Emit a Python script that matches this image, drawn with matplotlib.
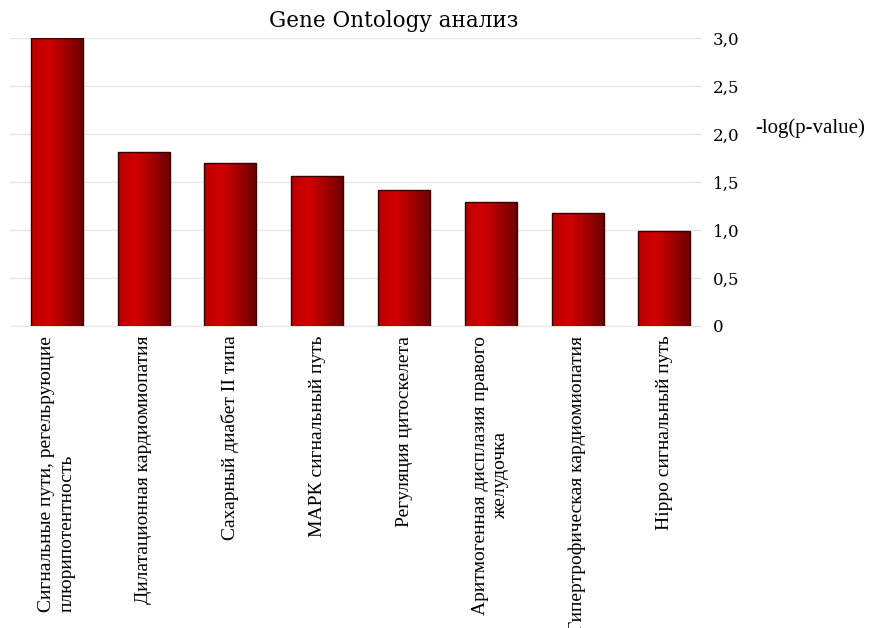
import matplotlib
matplotlib.use('Agg')
import matplotlib.pyplot as plt
from matplotlib.colors import LinearSegmentedColormap
import numpy as np

plt.rcParams['font.family'] = ['Liberation Serif', 'DejaVu Serif']

# данные
categories = [
    'Сигнальные пути, регельрующие\nплюрипотентность',
    'Дилатационная кардиомиопатия',
    'Сахарный диабет II типа',
    'МАРК сигнальный путь',
    'Регуляция цитоскелета',
    'Аритмогенная дисплазия правого\nжелудочка',
    'Гипертрофическая кардиомиопатия',
    'Hippo сигнальный путь',
]
values = [3.0, 1.81, 1.70, 1.56, 1.42, 1.29, 1.18, 0.99]
label_align = ['left', 'left', 'left', 'left', 'left', 'center', 'left', 'left']
yticks = [0, 0.5, 1.0, 1.5, 2.0, 2.5, 3.0]
ytick_labels = ['0', '0,5', '1,0', '1,5', '2,0', '2,5', '3,0']

fig = plt.figure(figsize=(8.69, 6.28), dpi=100)
ax = fig.add_axes([10/869, 1-326/628, (693-10)/869, (326-38)/628])

x = np.arange(len(values))
bars = ax.bar(x, values, width=0.6, color='none', edgecolor='#3a0000', linewidth=1, zorder=3)

# градиент внутри столбцов
cmap = LinearSegmentedColormap.from_list('redgrad', ['#b80000', '#d20000', '#a00000', '#6a0000'])
grad = np.linspace(0, 1, 256).reshape(1, -1)
for b in bars:
    x0, y0 = b.get_x(), b.get_y()
    im = ax.imshow(grad, cmap=cmap, aspect='auto', zorder=2,
                   extent=[x0, x0 + b.get_width(), y0, y0 + b.get_height()])
    im.set_clip_path(b)

ax.set_xlim(-0.54, 7.33)
ax.set_ylim(0, 3.0)

ax.yaxis.tick_right()
ax.set_yticks(yticks)
ax.set_yticklabels(ytick_labels, fontsize=12, family='DejaVu Serif')
ax.tick_params(axis='y', length=6, color='#dddddd', pad=8)
ax.grid(axis='y', color='#e6e6e6', linewidth=1, zorder=0)

ax.set_xticks(x)
ax.set_xticklabels(categories, rotation=90, fontsize=14, va='top', ha='center', linespacing=1.25)
for lbl, al in zip(ax.get_xticklabels(), label_align):
    lbl.set_multialignment(al)
ax.tick_params(axis='x', length=0, pad=7)

for s in ['top', 'left', 'right']:
    ax.spines[s].set_visible(False)
ax.spines['bottom'].set_color('#e6e6e6')

fig.text(394/869, 1-21/628, 'Gene Ontology анализ', ha='center', va='center',
         fontsize=15.5, family='DejaVu Serif')
fig.text(755/869, 1-128/628, '-log(p-value)', ha='left', va='center', fontsize=15)

fig.savefig('out.png', dpi=100, facecolor='white')
